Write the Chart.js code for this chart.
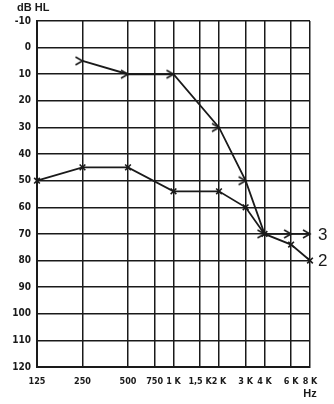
<!DOCTYPE html>
<html>
<head>
<meta charset="utf-8">
<script src="https://cdn.jsdelivr.net/npm/chart.js@4/dist/chart.umd.min.js"></script>
<style>
  html, body { margin: 0; padding: 0; background: #fff; }
  #wrap { width: 334px; height: 404px; }
</style>
</head>
<body>
<div id="wrap"><canvas id="audio" width="334" height="404"></canvas></div>
<script>
// frequencies (Hz) and their labels
const freqs = [125, 250, 500, 750, 1000, 1500, 2000, 3000, 4000, 6000, 8000];
const freqLabels = ['125', '250', '500', '750', '1 K', '1,5 K', '2 K', '3 K', '4 K', '6 K', '8 K'];
const dbTicks = [-10, 0, 10, 20, 30, 40, 50, 60, 70, 80, 90, 100, 110, 120];

// curve "3" (chevron markers) and curve "2" (x markers), dB HL
const curve3 = [null, 5, 10, null, 10, null, 30, 50, 70, 70, 70];
const curve2 = [50, 45, 45, null, 54, null, 54, 60, 70, 74, 80];
const curveNames = ['3', '2'];

const ink = '#1a1a1a';
const labelFont = "'Liberation Sans', Arial, sans-serif";
const narrowFont = "'DejaVu Sans Condensed', 'Liberation Sans', sans-serif";

// ">" marker, tip at the centre of the image
function chevron() {
    const c = document.createElement('canvas');
    c.width = 16; c.height = 12;
    const g = c.getContext('2d');
    g.strokeStyle = ink;
    g.lineWidth = 1.6;
    g.beginPath();
    g.moveTo(1, 2);
    g.lineTo(8, 6);
    g.lineTo(1, 10);
    g.stroke();
    return c;
}

function toPoints(arr) {
    return freqs.map((f, i) => ({ x: f, y: arr[i] }));
}

const extraText = {
    id: 'extraText',
    afterDraw(chart) {
        const ctx = chart.ctx;
        const y = chart.scales.y;
        ctx.save();
        ctx.fillStyle = ink;
        ctx.font = "bold 11px " + labelFont;
        ctx.textBaseline = 'middle';
        ctx.textAlign = 'left';
        ctx.fillText('dB HL', 17, 8);
        ctx.textAlign = 'center';
        ctx.fillText('Hz', 310, 394);
        ctx.font = "17px 'Liberation Sans', Arial, sans-serif";
        ctx.textAlign = 'left';
        ctx.fillText(curveNames[0], 318, y.getPixelForValue(curve3[curve3.length - 1]) + 1);
        ctx.fillText(curveNames[1], 318, y.getPixelForValue(curve2[curve2.length - 1]) + 1);
        ctx.restore();
    }
};

new Chart(document.getElementById('audio'), {
    type: 'line',
    data: {
        datasets: [
            {
                label: curveNames[0],
                data: toPoints(curve3),
                borderColor: ink,
                borderWidth: 1.8,
                pointStyle: chevron(),
                spanGaps: true,
                clip: false,
                tension: 0
            },
            {
                label: curveNames[1],
                data: toPoints(curve2),
                borderColor: ink,
                borderWidth: 1.8,
                pointStyle: 'crossRot',
                pointRadius: 4,
                pointBorderWidth: 1.6,
                pointBorderColor: ink,
                spanGaps: true,
                clip: false,
                tension: 0
            }
        ]
    },
    options: {
        responsive: false,
        animation: false,
        devicePixelRatio: 1,
        layout: { padding: { top: 21, right: 24, left: 0, bottom: 0 } },
        plugins: { legend: { display: false }, tooltip: { enabled: false } },
        scales: {
            x: {
                type: 'logarithmic',
                min: 125,
                max: 8000,
                afterBuildTicks: s => { s.ticks = freqs.map(v => ({ value: v })); },
                afterFit: s => { s.height = 37; },
                grid: { color: ink, lineWidth: 1.5, drawTicks: false },
                border: { color: ink, width: 2 },
                ticks: {
                    padding: 9,
                    autoSkip: false,
                    maxRotation: 0,
                    color: ink,
                    font: { family: narrowFont, size: 9, weight: 'bold' },
                    callback: (v, i) => freqLabels[i]
                }
            },
            y: {
                reverse: true,
                min: -10,
                max: 120,
                afterBuildTicks: s => { s.ticks = dbTicks.map(v => ({ value: v })); },
                afterFit: s => { s.width = 37; },
                grid: { color: ink, lineWidth: 1.5, drawTicks: false },
                border: { color: ink, width: 2 },
                ticks: {
                    padding: 6,
                    color: ink,
                    font: { family: narrowFont, size: 10, weight: 'bold' }
                }
            }
        }
    },
    plugins: [extraText]
});
</script>
</body>
</html>
